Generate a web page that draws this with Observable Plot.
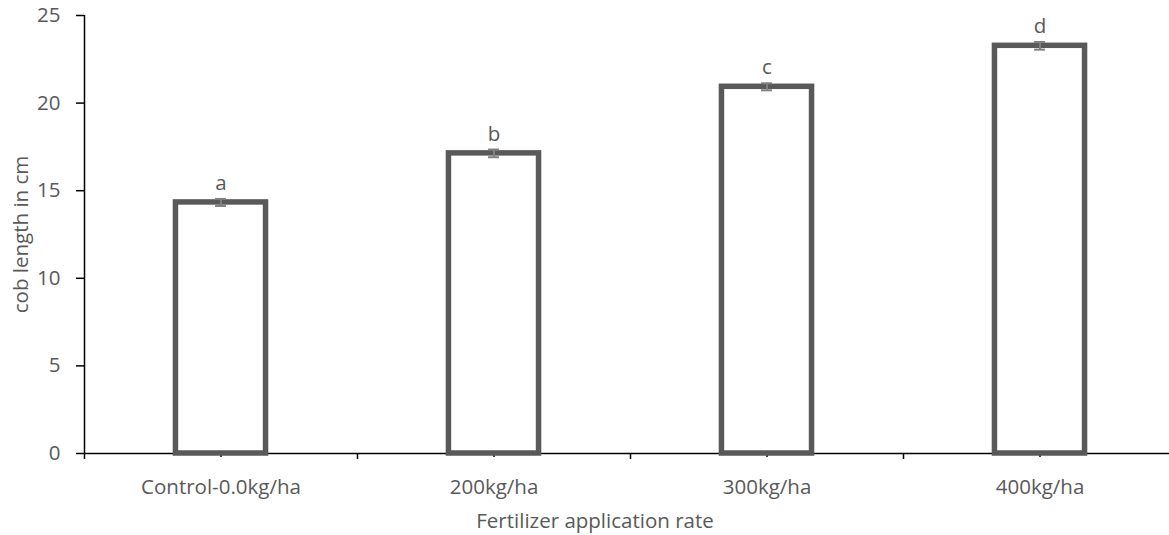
<!DOCTYPE html>
<html><head><meta charset="utf-8">
<script src="https://cdn.jsdelivr.net/npm/d3@7"></script>
<script src="https://cdn.jsdelivr.net/npm/@observablehq/plot@0.6"></script>
<style>body{margin:0;background:#fff}</style></head>
<body><div id="chart"></div>
<script>
const categories = ["Control-0.0kg/ha", "200kg/ha", "300kg/ha", "400kg/ha"];
const values = [14.33, 17.13, 20.93, 23.27];
const errors = [0.2, 0.22, 0.2, 0.22];
const letters = ["a", "b", "c", "d"];
const yTicks = [0, 5, 10, 15, 20, 25];
const xTitle = "Fertilizer application rate";
const yTitle = "cob length in cm";

const data = categories.map((c, i) => ({c, i, pos: i + 0.5, v: values[i], e: errors[i], l: letters[i]}));
const caps = data.flatMap(d => [{...d, y: d.v - d.e}, {...d, y: d.v + d.e}]);
const boundaries = d3.range(0, categories.length + 1);
const halfBar = 0.165, halfCap = 0.02;
const grey = "#595959";
const font = "'Open Sans', sans-serif";
const fs = 20.5;

const chart = Plot.plot({
  width: 1169, height: 535,
  marginLeft: 84, marginRight: 0, marginTop: 15, marginBottom: 82,
  style: {fontFamily: font, fontSize: fs + "px", color: grey, background: "#fff"},
  x: {type: "linear", domain: [0, categories.length], range: [84, 1176]},
  y: {domain: [0, 25]},
  marks: [
    Plot.ruleY([0], {stroke: "black", strokeWidth: 1.5}),
    Plot.ruleX([0], {stroke: "black", strokeWidth: 1.5}),
    Plot.axisY(yTicks, {tickSize: 8, tickPadding: 16, stroke: "black", strokeWidth: 1.5, fill: grey, label: null, fontSize: fs}),
    Plot.axisX(data.map(d => d.pos), {tickSize: 4, tickPadding: 22, stroke: "black", strokeWidth: 1.5, fill: grey, label: null, fontSize: fs,
      tickFormat: d => categories[Math.floor(d)]}),
    Plot.axisX(boundaries, {tickSize: 6, stroke: "black", strokeWidth: 1.5, tickFormat: () => "", label: null}),
    Plot.rect(data, {x1: d => d.pos - halfBar, x2: d => d.pos + halfBar, y1: 0, y2: "v",
      fill: "white", stroke: grey, strokeWidth: 5.5}),
    Plot.ruleX(data, {x: "pos", y1: d => d.v - d.e, y2: d => d.v + d.e, stroke: "#7f7f7f", strokeWidth: 2}),
    Plot.ruleY(caps, {y: "y", x1: d => d.pos - halfCap, x2: d => d.pos + halfCap, stroke: "#7f7f7f", strokeWidth: 2}),
    Plot.text(data, {x: "pos", y: "v", text: "l", dy: -19, fontSize: fs, fill: grey}),
    Plot.text([xTitle], {frameAnchor: "bottom", textAnchor: "middle", lineAnchor: "middle", dy: 68, dx: -32, fill: grey, fontSize: fs}),
    Plot.text([yTitle], {frameAnchor: "left", textAnchor: "middle", lineAnchor: "middle", rotate: -90, dx: -63, fill: grey, fontSize: fs})
  ]
});
document.getElementById("chart").append(chart);
</script>
</body></html>
